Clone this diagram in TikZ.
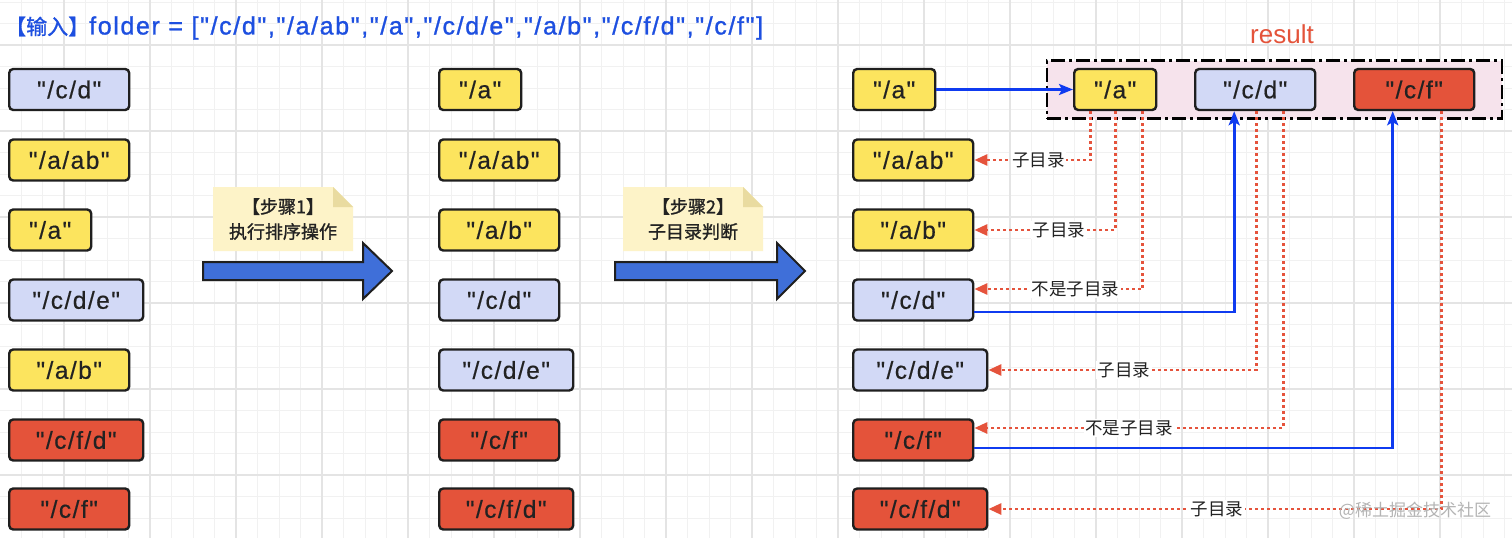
\documentclass[tikz,border=0pt]{standalone}
\usepackage{fontspec}
\setmainfont{Liberation Sans}
\newfontfamily\cjk{Noto Sans CJK SC}
\newfontfamily\cjkm{Noto Sans CJK SC}[FakeBold=1.2]
\newfontfamily\boxfont{Liberation Sans}[LetterSpace=6,FakeBold=0.5]
\newfontfamily\ttlfont{Liberation Sans}[LetterSpace=6.5,FakeBold=1.1]
\usetikzlibrary{arrows.meta}
\definecolor{ylw}{HTML}{FCE45E}
\definecolor{lav}{HTML}{D2D9F6}
\definecolor{rd}{HTML}{E4533A}
\definecolor{bline}{HTML}{1F1F1F}
\definecolor{txt}{HTML}{222222}
\definecolor{blu}{HTML}{0F3BF0}
\definecolor{ttl}{HTML}{1D4FE0}
\definecolor{arrowfill}{HTML}{3F6FD9}
\definecolor{notefill}{HTML}{FDF3C8}
\definecolor{notefold}{HTML}{E9DBA0}
\definecolor{pinkbg}{HTML}{F6E3EC}
\definecolor{gridminor}{HTML}{F1F1F1}
\definecolor{gridmajor}{HTML}{E4E4E4}
\definecolor{redline}{HTML}{E5533C}
\definecolor{wm}{HTML}{B4B4B4}
\tikzset{
  box/.style={draw=bline, line width=2.4pt, rounded corners=4pt, minimum height=41pt,
    inner sep=0pt, anchor=west, text=txt, font=\boxfont\fontsize{24.5}{24.5}\selectfont},
  wS/.style={minimum width=82pt},
  wM/.style={minimum width=120pt},
  wL/.style={minimum width=134pt},
  bluecon/.style={draw=blu, line width=2.6pt, -{Stealth[length=14pt,width=11pt,inset=3pt]}},
  redcon/.style={draw=redline, line width=2.8pt, dash pattern=on 2.8pt off 3.2pt,
    -{Triangle[length=13pt,width=11pt]}},
  lbl/.style={fill=white, inner sep=1.5pt, text=txt, font=\cjk\fontsize{17.5}{17.5}\selectfont},
  blockarrow/.style={fill=arrowfill, draw=bline, line width=2pt, line join=miter},
  notetext/.style={align=center, text=txt, font=\cjkm\fontsize{18}{25}\selectfont},
}
\begin{document}
\begin{tikzpicture}[x=1pt,y=-1pt]
\useasboundingbox (0,0) rectangle (1512,538);
\fill[white] (0,0) rectangle (1512,538);
% grid
\foreach \i in {0,...,72} {
  \draw[gridminor, line width=1pt] ({-22+21.5*\i},0) -- ({-22+21.5*\i},538);
}
\foreach \j in {0,...,25} {
  \draw[gridminor, line width=1pt] (0,{2+21.5*\j}) -- (1512,{2+21.5*\j});
}
\foreach \i in {0,...,18} {
  \draw[gridmajor, line width=1.2pt] ({-22+86*\i},0) -- ({-22+86*\i},538);
}
\foreach \j in {0,...,6} {
  \draw[gridmajor, line width=1.2pt] (0,{45+86*\j}) -- (1512,{45+86*\j});
}

% title
\node[anchor=west, text=ttl, inner sep=0pt, font=\ttlfont\fontsize{25}{25}\selectfont] (title) at (5,28)
  {{\cjkm\fontsize{21}{21}\selectfont 【输入】}folder = ["/c/d","/a/ab","/a","/c/d/e","/a/b","/c/f/d","/c/f"]};

% column 1
\node[box,wM,fill=lav] (a1) at (8,89.5) {"/c/d"};
\node[box,wM,fill=ylw] (a2) at (8,160) {"/a/ab"};
\node[box,wS,fill=ylw] (a3) at (8,230) {"/a"};
\node[box,wL,fill=lav] (a4) at (8,300) {"/c/d/e"};
\node[box,wM,fill=ylw] (a5) at (8,370) {"/a/b"};
\node[box,wL,fill=rd] (a6) at (8,440) {"/c/f/d"};
\node[box,wM,fill=rd] (a7) at (8,509) {"/c/f"};

% column 2
\node[box,wS,fill=ylw] (b1) at (438,89.5) {"/a"};
\node[box,wM,fill=ylw] (b2) at (438,160) {"/a/ab"};
\node[box,wM,fill=ylw] (b3) at (438,230) {"/a/b"};
\node[box,wM,fill=lav] (b4) at (438,300) {"/c/d"};
\node[box,wL,fill=lav] (b5) at (438,370) {"/c/d/e"};
\node[box,wM,fill=rd] (b6) at (438,440) {"/c/f"};
\node[box,wL,fill=rd] (b7) at (438,509) {"/c/f/d"};

% column 3
\node[box,wS,fill=ylw] (c1) at (852,89.5) {"/a"};
\node[box,wM,fill=ylw] (c2) at (852,160) {"/a/ab"};
\node[box,wM,fill=ylw] (c3) at (852,230) {"/a/b"};
\node[box,wM,fill=lav] (c4) at (852,300) {"/c/d"};
\node[box,wL,fill=lav] (c5) at (852,370) {"/c/d/e"};
\node[box,wM,fill=rd] (c6) at (852,440) {"/c/f"};
\node[box,wL,fill=rd] (c7) at (852,509) {"/c/f/d"};

% result container
\node[draw=black, fill=pinkbg, line width=2.8pt, dash pattern=on 14pt off 4pt on 3pt off 4pt,
      minimum width=455pt, minimum height=58pt, inner sep=0pt] (rbox) at (1274.5,89.5) {};
\node[text=rd, font=\fontsize{26}{26}\selectfont, inner sep=0pt] (rlabel) at (1282,34) {result};
\node[box,wS,fill=ylw] (r1) at (1073,89.5) {"/a"};
\node[box,wM,fill=lav] (r2) at (1194,89.5) {"/c/d"};
\node[box,wM,fill=rd] (r3) at (1353,89.5) {"/c/f"};

% step notes
\fill[notefill] (213,187) -- (333,187) -- (353,207) -- (353,251) -- (213,251) -- cycle;
\fill[notefold] (333,187) -- (333,207) -- (353,207) -- cycle;
\node[notetext] (n1) at (283,219) {【步骤1】\\执行排序操作};
\fill[notefill] (623,187) -- (743,187) -- (763,207) -- (763,251) -- (623,251) -- cycle;
\fill[notefold] (743,187) -- (743,207) -- (763,207) -- cycle;
\node[notetext] (n2) at (693,219) {【步骤2】\\子目录判断};

% block arrows
\draw[blockarrow] (203,262) -- (363,262) -- (363,243) -- (392,271) -- (363,299) -- (363,280) -- (203,280) -- cycle;
\draw[blockarrow] (615,262) -- (777,262) -- (777,243) -- (805,271) -- (777,299) -- (777,280) -- (615,280) -- cycle;

% blue connectors
\draw[bluecon] (c1.east) -- (r1.west);
\draw[bluecon] ([yshift=-12pt]c4.east) -| ([xshift=-21pt]r2.south);
\draw[bluecon] ([yshift=-8pt]c6.east) -| ([xshift=-21.5pt]r3.south);

% red dotted connectors
\draw[redcon] ([xshift=-24.5pt]r1.south) |- (c2.east) node[lbl,pos=0.724] {子目录};
\draw[redcon] ([xshift=0pt]r1.south) |- (c3.east) node[lbl,pos=0.70] {子目录};
\draw[redcon] ([xshift=27.5pt]r1.south) |- ([yshift=11pt]c4.east) node[lbl,pos=0.70] {不是子目录};
\draw[redcon] ([xshift=1pt]r2.south) |- (c5.east) node[lbl,pos=0.747] {子目录};
\draw[redcon] ([xshift=28pt]r2.south) |- ([yshift=12pt]c6.east) node[lbl,pos=0.75] {不是子目录};
\draw[redcon] ([xshift=27.5pt]r3.south) |- (c7.east) node[lbl,pos=0.748] {子目录};

% watermark
\node[text=wm, font=\cjk\fontsize{17}{17}\selectfont, inner sep=0pt] (wmark) at (1415,511) {@稀土掘金技术社区};
\end{tikzpicture}
\end{document}
